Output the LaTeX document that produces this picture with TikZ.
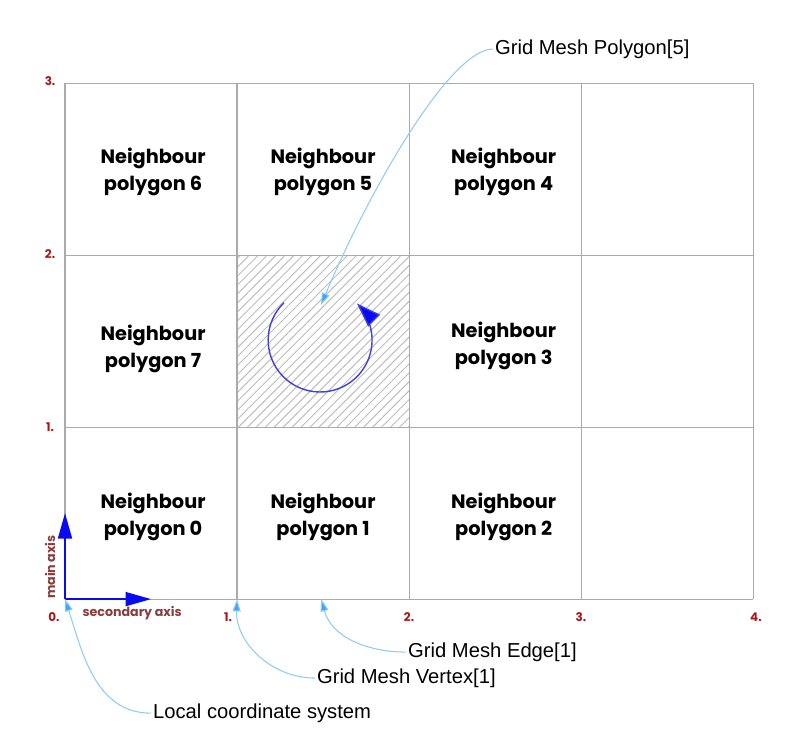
\documentclass[tikz,border=0pt]{standalone}
\usepackage{fontspec}
\usetikzlibrary{arrows.meta,patterns.meta}
\newfontfamily\nbfont{Poppins}
\newfontfamily\callfont{Liberation Sans}
\definecolor{tickred}{HTML}{A81818}
\definecolor{axisbrown}{HTML}{8A3D3D}
\definecolor{axisblue}{HTML}{0A0AF0}
\definecolor{turnblue}{HTML}{4040DC}
\definecolor{callline}{HTML}{92CBF2}
\definecolor{calltip}{HTML}{3DA6F5}

\begin{document}
\begin{tikzpicture}[x=3.44cm, y=3.44cm,
	gridline/.style={draw=black!33, line width=.6pt},
	nb/.style={align=center, font=\nbfont\bfseries\fontsize{11}{15.3}\selectfont},
	tick/.style={text=tickred, inner sep=0pt, font=\nbfont\bfseries\fontsize{6.8}{7}\selectfont},
	axlabel/.style={text=axisbrown, inner sep=0pt, font=\nbfont\bfseries\fontsize{7.2}{8}\selectfont},
	axis/.style={draw=axisblue, line width=.9pt, -{Triangle[length=14.5pt, width=8pt]}},
	call/.style={callline, line width=.6pt, -{Triangle[length=7pt, width=4.6pt, fill=calltip]}},
	calltext/.style={anchor=west, inner sep=1pt, font=\callfont\fontsize{11.5}{13}\selectfont}]
	\useasboundingbox (-0.378,-0.907) rectangle (4.273,3.483);

	% hatched current polygon
	\fill[pattern={Lines[angle=45, distance=3.6pt, line width=.55pt]}, pattern color=black!26] (1,1) rectangle (2,2);
	\draw[gridline] (0,0) grid[step={(1,1)}] (4,3);

	% neighbours
	\node[nb] (N6) at (0.512,2.483) {Neighbour\\polygon 6};
	\node[nb] (N5) at (1.5,2.483) {Neighbour\\polygon 5};
	\node[nb] (N4) at (2.55,2.483) {Neighbour\\polygon 4};
	\node[nb] (N7) at (0.512,1.453) {Neighbour\\polygon 7};
	\node[nb] (N3) at (2.55,1.47) {Neighbour\\polygon 3};
	\node[nb] (N0) at (0.512,0.477) {Neighbour\\polygon 0};
	\node[nb] (N1) at (1.5,0.477) {Neighbour\\polygon 1};
	\node[nb] (N2) at (2.55,0.477) {Neighbour\\polygon 2};

	% ticks
	\node[tick] (X0) at (-0.064,-0.105) {0.};
	\node[tick] (X1) at (0.948,-0.105) {1.};
	\node[tick] (X2) at (2.0,-0.105) {2.};
	\node[tick] (X3) at (3.0,-0.105) {3.};
	\node[tick] (X4) at (4.017,-0.105) {4.};
	\node[tick] (Y1) at (-0.087,1.0) {1.};
	\node[tick] (Y2) at (-0.087,2.006) {2.};
	\node[tick] (Y3) at (-0.087,3.012) {3.};

	% local axes
	\coordinate (O) at (0,0);
	\coordinate (main_end) at (0,0.5);
	\coordinate (sec_end) at (0.5,0);
	\draw[axis] (O) -- (main_end);
	\draw[axis] (O) -- (sec_end);
	\node[axlabel, rotate=90] (main_label) at (-0.087,0.186) {main axis};
	\node[axlabel] (sec_label) at (0.39,-0.081) {secondary axis};

	% winding
	\coordinate (C) at (1.483,1.506);
	\draw[turnblue, line width=.8pt, -{Triangle[length=14pt, width=9.5pt, fill=axisblue]}] ([shift={(134:0.302)}]C) arc[start angle=134, end angle=405, radius=0.302];

	% callouts
	\node[calltext] (poly_txt) at (2.488,3.198) {Grid Mesh Polygon[5]};
	\node[calltext] (edge_txt) at (1.983,-0.308) {Grid Mesh Edge[1]};
	\node[calltext] (vert_txt) at (1.453,-0.459) {Grid Mesh Vertex[1]};
	\node[calltext] (local_txt) at (0.5,-0.663) {Local coordinate system};
	\coordinate (poly_tip) at (1.488,1.709);
	\coordinate (edge_tip) at (1.49,0);
	\coordinate (vert_tip) at (1,0);
	\coordinate (local_tip) at (0,0);

	\draw[call] (poly_txt.west) .. controls (2.24,3.198) and (1.77,2.38) .. (poly_tip);
	\draw[call] (edge_txt.west) to[out=180, in=-75] (edge_tip);
	\draw[call] (vert_txt.west) to[out=180, in=-92] (vert_tip);
	\draw[call] (local_txt.west) to[out=180, in=-72] (local_tip);
\end{tikzpicture}
\end{document}
